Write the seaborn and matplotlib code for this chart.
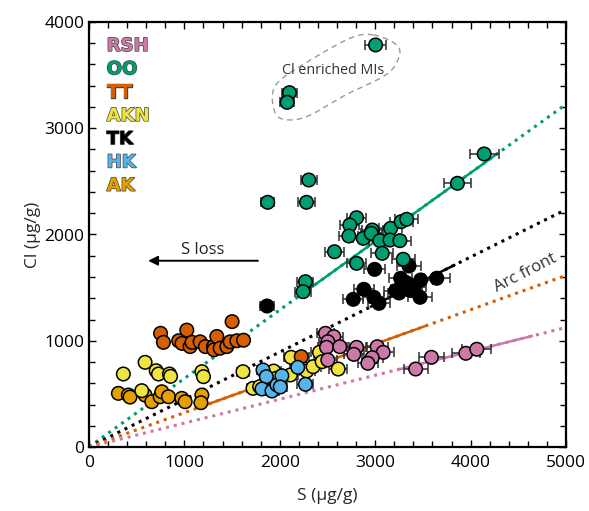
import numpy as np
import pandas as pd
import matplotlib
matplotlib.use("Agg")
import matplotlib.pyplot as plt
import matplotlib.patheffects as pe
from matplotlib.ticker import MultipleLocator
import seaborn as sns

# ---------------- data ----------------
groups = ["RSH", "OO", "TT", "AKN", "TK", "HK", "AK"]
colors = {"RSH": "#CC79A7", "OO": "#009E73", "TT": "#D55E00", "AKN": "#F0E442",
          "TK": "#000000", "HK": "#56B4E9", "AK": "#E69F00"}

AK_S = [308, 413, 430, 588, 658, 746, 763, 833, 973, 1008, 1183, 1173]
AK_Cl = [505, 489, 470, 489, 426, 473, 520, 473, 458, 426, 489, 417]

AKN_S = [588, 360, 704, 728, 843, 855, 1183, 1200, 553, 1614, 1719, 1789, 1936,
         1964, 2111, 2118, 2251, 2282, 2349, 2416, 2444, 2612]
AKN_Cl = [797, 687, 718, 687, 687, 665, 709, 662, 530, 709, 552, 568, 715,
          647, 678, 844, 741, 715, 756, 891, 803, 734]

TT_S = [750, 780, 940, 975, 1025, 1060, 1080, 1165, 1220, 1305, 1310, 1340, 1375,
        1445, 1480, 1500, 1550, 1620, 2225]
TT_Cl = [1070, 985, 1000, 975, 1100, 945, 985, 990, 945, 945, 915, 1040, 930,
         945, 990, 1180, 1000, 1005, 850]

HK_S = [1824, 1859, 1813, 1918, 1970, 2022, 2005, 2188, 2269]
HK_Cl = [725, 662, 546, 527, 584, 671, 565, 750, 590]

RSH_S = [2479, 2566, 2503, 2490, 2629, 2805, 2776, 3021, 3084, 2969, 2923, 2503,
         3424, 3589, 3950, 4065]
RSH_Cl = [1070, 1038, 991, 938, 944, 938, 872, 944, 891, 841, 788, 819,
          734, 844, 882, 920]

TK_S = [1866, 2994, 3354, 2881, 2770, 2986, 3039, 3214, 3267, 3337, 3284, 3407,
        3477, 3470, 3645, 3250, 3365]
TK_Cl = [1327, 1672, 1704, 1484, 1390, 1409, 1352, 1471, 1588, 1541, 1490, 1509,
         1572, 1409, 1588, 1450, 1475]

OO_S = [3004, 2101, 2077, 2304, 1873, 2280, 2269, 2244, 2805, 2734, 2724, 2875,
        2969, 2958, 3049, 3162, 3155, 3259, 3273, 3330, 2573, 3074, 2805, 3294,
        4142, 3862]
OO_Cl = [3784, 3335, 3244, 2513, 2303, 2303, 1556, 1462, 2158, 2089, 1986, 1964,
         2042, 2011, 1942, 2058, 1948, 1942, 2121, 2143, 1838, 1823, 1729, 1767,
         2758, 2482]

S_REL_ERR = 0.037  # relative analytical uncertainty on S

# trend lines through origin: slope, solid-segment S range
line_slope = {"OO": 0.645, "TK": 0.447, "TT": 0.323, "RSH": 0.225}
line_solid = {"OO": (2240, 4290), "TK": (2945, 3840), "TT": (1216, 3530), "RSH": (3228, 4654)}

x_ticks = [0, 1000, 2000, 3000, 4000, 5000]
y_ticks = [0, 1000, 2000, 3000, 4000]

data = {"AK": (AK_S, AK_Cl), "AKN": (AKN_S, AKN_Cl), "TT": (TT_S, TT_Cl),
        "HK": (HK_S, HK_Cl), "RSH": (RSH_S, RSH_Cl), "TK": (TK_S, TK_Cl),
        "OO": (OO_S, OO_Cl)}
draw_order = ["AK", "AKN", "TT", "HK", "RSH", "TK", "OO"]
err_min_S = {"AK": 1150, "AKN": 1150, "TT": 1600, "HK": 0, "RSH": 0, "TK": 0, "OO": 0}

rows = []
for g in draw_order:
    for s, c in zip(*data[g]):
        rows.append({"group": g, "S": s, "Cl": c})
df = pd.DataFrame(rows)

# ---------------- figure ----------------
sns.set_style("ticks")
plt.rcParams["font.family"] = ["Open Sans", "DejaVu Sans"]

fig = plt.figure(figsize=(5.89, 5.11), dpi=100)
ax = fig.add_axes([89 / 589, 1 - 447 / 511, 477 / 589, 425 / 511])

# trend lines
xs_full = np.array([0, 5000])
for g, k in line_slope.items():
    ax.plot(xs_full, k * xs_full, color=colors[g], lw=2.2, linestyle=(0, (1, 1.6)), zorder=1)
    a, b = line_solid[g]
    xs = np.array([a, b])
    ax.plot(xs, k * xs, color=colors[g], lw=1.8, zorder=1.5, solid_capstyle="butt")

# error bars
for g in draw_order:
    s = np.array(data[g][0], float)
    c = np.array(data[g][1], float)
    m = s >= err_min_S[g]
    if m.any():
        ax.errorbar(s[m], c[m], xerr=S_REL_ERR * s[m], fmt="none", ecolor="#2e2e2e",
                    elinewidth=1.1, capsize=3.5, capthick=1.1, zorder=2)

sns.scatterplot(data=df, x="S", y="Cl", hue="group", palette=colors, hue_order=groups,
                s=95, edgecolor="black", linewidth=1.1, legend=False, ax=ax, zorder=3)

ax.set_xlim(0, 5000)
ax.set_ylim(0, 4000)
ax.set_xticks(x_ticks)
ax.set_yticks(y_ticks)
ax.xaxis.set_minor_locator(MultipleLocator(200))
ax.yaxis.set_minor_locator(MultipleLocator(200))
ax.tick_params(which="both", direction="in", top=True, right=True, width=1.0,
               labelsize=12.5, colors="black")
ax.tick_params(which="major", length=5)
ax.tick_params(which="minor", length=4)
ax.tick_params(axis="x", pad=6)
for sp in ax.spines.values():
    sp.set_linewidth(1.6)
    sp.set_color("black")
    sp.set_visible(True)
ax.set_xlabel("S (μg/g)", fontsize=12.5, labelpad=12)
ax.set_ylabel("Cl (μg/g)", fontsize=12.5, labelpad=2)

# legend as coloured outlined text
for i, g in enumerate(groups):
    y = (447 - (46 + 23.3 * i)) / 425
    ax.text(0.037, y, g, transform=ax.transAxes, color=colors[g], fontsize=13,
            fontweight="bold", family="DejaVu Sans", va="center", ha="left",
            path_effects=[pe.withStroke(linewidth=1.0, foreground="#444444")], zorder=5)

# annotations
ax.text(4570, 1640, "Arc front", rotation=27, fontsize=12, color="#333333",
        ha="center", va="center")
ax.text(1190, 1850, "S loss", fontsize=12, color="#222222", ha="center", va="center")
ax.annotate("", xy=(620, 1753), xytext=(1770, 1753),
            arrowprops=dict(arrowstyle="-|>", color="black", lw=1.4,
                            mutation_scale=14, shrinkA=0, shrinkB=0))
ax.text(2563, 3548, "Cl enriched MIs", fontsize=10.3, color="#333333", ha="center", va="center")

# dashed outline around Cl-enriched inclusions (closed Catmull-Rom curve)
outline = np.array([(2983, 3878), (3225, 3784), (3246, 3661), (3109, 3501), (2689, 3313),
                    (2321, 3125), (2111, 3078), (1964, 3125), (1922, 3313), (2006, 3454),
                    (2321, 3642), (2742, 3849)], float)
n = len(outline)
pts = []
for i in range(n):
    p0, p1, p2, p3 = outline[(i - 1) % n], outline[i], outline[(i + 1) % n], outline[(i + 2) % n]
    for t in np.linspace(0, 1, 20, endpoint=False):
        t2, t3 = t * t, t * t * t
        pts.append(0.5 * ((2 * p1) + (-p0 + p2) * t + (2 * p0 - 5 * p1 + 4 * p2 - p3) * t2
                          + (-p0 + 3 * p1 - 3 * p2 + p3) * t3))
pts.append(pts[0])
pts = np.array(pts)
ax.plot(pts[:, 0], pts[:, 1], color="#9a9a9a", lw=1.0, linestyle=(0, (4, 3)), zorder=1)

fig.savefig("out.png", dpi=100)
